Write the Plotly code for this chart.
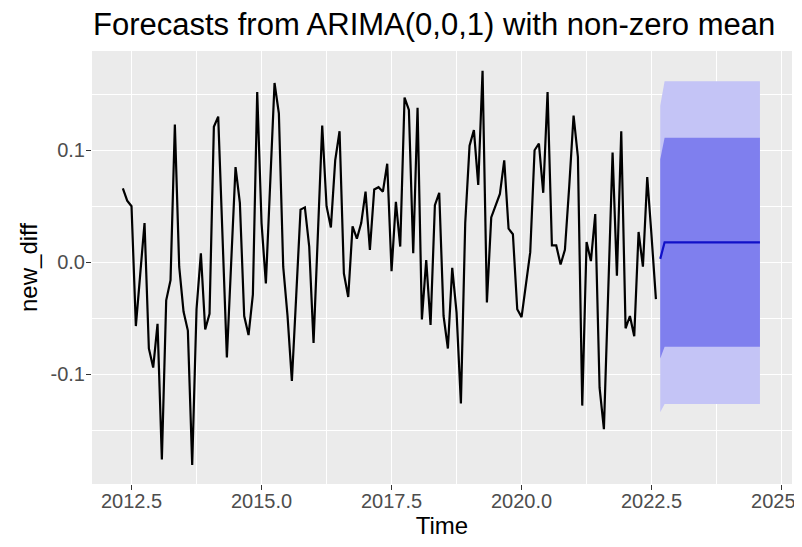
import plotly.graph_objects as go

# ---- data ----
start_year = 2012
start_month = 5
freq = 12
new_diff = [0.066, 0.055, 0.050, -0.057, -0.011, 0.035, -0.077, -0.094, -0.055, -0.176,
            -0.034, -0.016, 0.123, -0.004, -0.044, -0.061, -0.181, -0.042, 0.008, -0.060,
            -0.046, 0.121, 0.130, 0.022, -0.085, 0.000, 0.085, 0.053, -0.048, -0.065,
            -0.029, 0.152, 0.035, -0.019, 0.070, 0.160, 0.133, -0.004, -0.048, -0.106,
            -0.030, 0.047, 0.049, 0.014, -0.072, 0.026, 0.122, 0.050, 0.031, 0.091,
            0.117, -0.010, -0.031, 0.032, 0.021, 0.035, 0.063, 0.011, 0.065, 0.067,
            0.063, 0.088, -0.008, 0.054, 0.014, 0.147, 0.136, 0.008, 0.138, -0.051,
            0.002, -0.056, 0.051, 0.062, -0.048, -0.077, -0.005, -0.045, -0.126, 0.035,
            0.104, 0.118, 0.069, 0.171, -0.036, 0.040, 0.050, 0.061, 0.091, 0.030,
            0.025, -0.042, -0.049, -0.021, 0.009, 0.100, 0.106, 0.062, 0.152, 0.015,
            0.015, -0.002, 0.011, 0.068, 0.131, 0.094, -0.128, 0.018, 0.001, 0.043,
            -0.112, -0.149, -0.025, 0.098, -0.012, 0.117, -0.059, -0.048, -0.066, 0.027,
            -0.004, 0.076, 0.023, -0.033]

fc_mean = [0.003, 0.0178, 0.0178, 0.0178, 0.0178, 0.0178, 0.0178, 0.0178, 0.0178, 0.0178,
           0.0178, 0.0178, 0.0178, 0.0178, 0.0178, 0.0178, 0.0178, 0.0178, 0.0178, 0.0178,
           0.0178, 0.0178, 0.0178, 0.0178]
fc_lo80 = [-0.086, -0.0755, -0.0755, -0.0755, -0.0755, -0.0755, -0.0755, -0.0755, -0.0755, -0.0755,
           -0.0755, -0.0755, -0.0755, -0.0755, -0.0755, -0.0755, -0.0755, -0.0755, -0.0755, -0.0755,
           -0.0755, -0.0755, -0.0755, -0.0755]
fc_hi80 = [0.092, 0.1112, 0.1112, 0.1112, 0.1112, 0.1112, 0.1112, 0.1112, 0.1112, 0.1112,
           0.1112, 0.1112, 0.1112, 0.1112, 0.1112, 0.1112, 0.1112, 0.1112, 0.1112, 0.1112,
           0.1112, 0.1112, 0.1112, 0.1112]
fc_lo95 = [-0.134, -0.1265, -0.1265, -0.1265, -0.1265, -0.1265, -0.1265, -0.1265, -0.1265, -0.1265,
           -0.1265, -0.1265, -0.1265, -0.1265, -0.1265, -0.1265, -0.1265, -0.1265, -0.1265, -0.1265,
           -0.1265, -0.1265, -0.1265, -0.1265]
fc_hi95 = [0.140, 0.1615, 0.1615, 0.1615, 0.1615, 0.1615, 0.1615, 0.1615, 0.1615, 0.1615,
           0.1615, 0.1615, 0.1615, 0.1615, 0.1615, 0.1615, 0.1615, 0.1615, 0.1615, 0.1615,
           0.1615, 0.1615, 0.1615, 0.1615]

x_tick_vals = [2012.5, 2015.0, 2017.5, 2020.0, 2022.5, 2025.0]
x_tick_text = ["2012.5", "2015.0", "2017.5", "2020.0", "2022.5", "2025.0"]
y_tick_vals = [-0.1, 0.0, 0.1]
y_tick_text = ["-0.1", "0.0", "0.1"]

# time index of a monthly ts
t0 = start_year + (start_month - 1) / freq
times = [t0 + i / freq for i in range(len(new_diff))]
t_fc0 = t0 + len(new_diff) / freq
fc_times = [t_fc0 + i / freq for i in range(len(fc_mean))]

FONT = "Liberation Sans, Arial, sans-serif"

# the page body has an 8px margin, so the figure is sized to fill the rest
W, H = 794, 539

fig = go.Figure()
fig.add_trace(go.Scatter(x=fc_times, y=fc_hi95, mode="lines", line=dict(width=0),
                         hoverinfo="skip", showlegend=False))
fig.add_trace(go.Scatter(x=fc_times, y=fc_lo95, mode="lines", line=dict(width=0),
                         fill="tonexty", fillcolor="#C4C4F6", showlegend=False))
fig.add_trace(go.Scatter(x=fc_times, y=fc_hi80, mode="lines", line=dict(width=0),
                         hoverinfo="skip", showlegend=False))
fig.add_trace(go.Scatter(x=fc_times, y=fc_lo80, mode="lines", line=dict(width=0),
                         fill="tonexty", fillcolor="#7F7FEE", showlegend=False))
fig.add_trace(go.Scatter(x=times, y=new_diff, mode="lines",
                         line=dict(color="black", width=2.2), showlegend=False))
fig.add_trace(go.Scatter(x=fc_times, y=fc_mean, mode="lines",
                         line=dict(color="#1010C8", width=2.2), showlegend=False))

fig.update_layout(
    width=W, height=H,
    margin=dict(l=84, r=10, t=43, b=63),
    paper_bgcolor="white", plot_bgcolor="#EBEBEB",
    font=dict(family=FONT, color="black"),
    title=dict(text="Forecasts from ARIMA(0,0,1) with non-zero mean",
               x=85 / W, xref="container", xanchor="left",
               y=1 - 16 / H, yref="container", yanchor="middle",
               font=dict(size=31, color="black", family=FONT)),
    xaxis=dict(range=[2011.74, 2025.2], tickvals=x_tick_vals, ticktext=x_tick_text,
               showgrid=True, gridcolor="white", gridwidth=1.4, zeroline=False,
               ticks="outside", ticklen=5, tickcolor="#333333", tickwidth=1.3,
               ticklabelstandoff=-6, ticklabeloverflow="allow",
               tickfont=dict(size=20, color="#4D4D4D", family=FONT),
               minor=dict(tickvals=[2011.25, 2013.75, 2016.25, 2018.75, 2021.25, 2023.75],
                          showgrid=True, gridcolor="white", gridwidth=0.7, ticks=""),
               title=dict(text="Time", font=dict(size=24, color="black", family=FONT),
                          standoff=4),
               automargin=False, showline=False),
    yaxis=dict(range=[-0.198, 0.1886], tickvals=y_tick_vals, ticktext=y_tick_text,
               showgrid=True, gridcolor="white", gridwidth=1.4, zeroline=False,
               ticks="outside", ticklen=5, tickcolor="#333333", tickwidth=1.3,
               ticklabelstandoff=-3,
               tickfont=dict(size=20, color="#4D4D4D", family=FONT),
               minor=dict(tickvals=[-0.15, -0.05, 0.05, 0.15],
                          showgrid=True, gridcolor="white", gridwidth=0.7, ticks=""),
               title=dict(text="new_diff", font=dict(size=24, color="black", family=FONT),
                          standoff=6),
               automargin=False, showline=False),
)

fig.write_html("out.html")
